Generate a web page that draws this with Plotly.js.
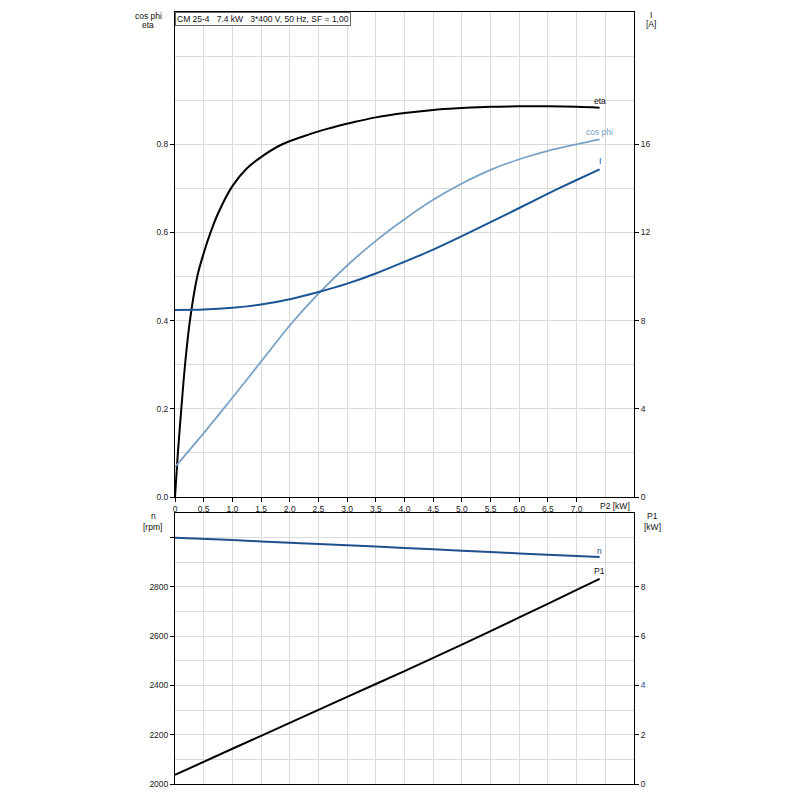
<!DOCTYPE html>
<html>
<head>
<meta charset="utf-8">
<script src="https://cdn.plot.ly/plotly-3.0.1.min.js"></script>
<style>html,body{margin:0;padding:0;background:#fff}#chart{width:800px;height:800px}</style>
</head>
<body>
<div id="chart"></div>
<script>
// ---- data ----
const p2Eta = [0, 0.05, 0.11, 0.175, 0.26, 0.388, 0.5, 0.62, 0.75, 1.0, 1.25, 1.5, 1.87, 2.35, 2.65, 3.11, 3.5, 4.0, 4.5, 5.0, 5.5, 6.0, 6.5, 7.0, 7.4];
const eta   = [0, 0.1, 0.2, 0.3, 0.4, 0.5, 0.553, 0.6, 0.643, 0.705, 0.745, 0.771, 0.8, 0.823, 0.835, 0.85, 0.861, 0.871, 0.878, 0.882, 0.885, 0.886, 0.886, 0.885, 0.883];

const p2 = [0, 0.5, 1.0, 1.5, 2.0, 2.5, 3.0, 3.5, 4.0, 4.5, 5.0, 5.5, 6.0, 6.5, 7.0, 7.4];
const cosPhi   = [0.068, 0.145, 0.225, 0.307, 0.389, 0.461, 0.525, 0.581, 0.630, 0.674, 0.711, 0.742, 0.766, 0.785, 0.800, 0.811];
const currentA = [8.48, 8.50, 8.58, 8.73, 8.97, 9.30, 9.68, 10.14, 10.67, 11.22, 11.83, 12.47, 13.11, 13.76, 14.38, 14.86];

const p2Bottom = [0, 1, 2, 3, 4, 5, 6, 7, 7.4];
const speedRpm = [3000, 2990, 2979, 2969, 2958, 2947, 2936, 2925, 2921];
const p1kW     = [0.37, 1.43, 2.48, 3.54, 4.58, 5.66, 6.76, 7.88, 8.33];

const xTickVals = [0, 0.5, 1.0, 1.5, 2.0, 2.5, 3.0, 3.5, 4.0, 4.5, 5.0, 5.5, 6.0, 6.5, 7.0];
const xTickText = ['0', '0,5', '1,0', '1,5', '2,0', '2,5', '3,0', '3,5', '4,0', '4,5', '5,0', '5,5', '6,0', '6,5', '7,0'];
const leftTopTickVals = [0, 0.2, 0.4, 0.6, 0.8];
const leftTopTickText = ['0.0', '0.2', '0.4', '0.6', '0.8'];
const rightTopTickVals = [0, 4, 8, 12, 16];
const nTickVals = [2000, 2200, 2400, 2600, 2800, 3000];
const nTickText = ['2000', '2200', '2400', '2600', '2800', ''];
const p1TickVals = [0, 2, 4, 6, 8];
const p1TickText = ['0', '2', '<span style="color:#1f4e89">4</span>', '6', '8'];

const titleText = 'CM 25-4\u00a0\u00a0 7.4 kW\u00a0\u00a0 3*400 V, 50 Hz, SF = 1,00';

// ---- colours / styles ----
const cEta = '#000000', cCos = '#7aa2c6', cI = '#1c5596', cN = '#1f4f8c', cP1 = '#000000';
const grid = '#dadada';
const FONT = 'Liberation Sans, Arial, sans-serif';
const FS = 8.5;

// geometry helpers (margins in px -> paper coords)
const L = 175, R = 166, T = 12, B = 16, W = 800, H = 800;
const PW = W - L - R, PH = H - T - B;
const fx = px => (px - L) / PW;
const fy = py => (H - B - py) / PH;

const traces = [
  {x: p2Eta, y: eta, xaxis: 'x', yaxis: 'y', mode: 'lines', line: {color: cEta, width: 2, shape: 'spline', smoothing: 1.0}, hoverinfo: 'skip'},
  {x: p2, y: cosPhi, xaxis: 'x', yaxis: 'y', mode: 'lines', line: {color: cCos, width: 1.8, shape: 'spline', smoothing: 0.8}, hoverinfo: 'skip'},
  {x: p2, y: currentA, xaxis: 'x', yaxis: 'y2', mode: 'lines', line: {color: cI, width: 2, shape: 'spline', smoothing: 0.8}, hoverinfo: 'skip'},
  {x: p2Bottom, y: speedRpm, xaxis: 'x2', yaxis: 'y3', mode: 'lines', line: {color: cN, width: 2, shape: 'spline', smoothing: 0.6}, hoverinfo: 'skip'},
  {x: p2Bottom, y: p1kW, xaxis: 'x2', yaxis: 'y4', mode: 'lines', line: {color: cP1, width: 2, shape: 'spline', smoothing: 0.6}, hoverinfo: 'skip'}
];

const axisCommon = {
  showline: true, linecolor: '#000', linewidth: 1,
  ticks: 'outside', ticklen: 4, tickcolor: '#000', tickwidth: 1,
  zeroline: false, tickfont: {size: FS, color: '#222', family: FONT},
  fixedrange: true
};

const topDomain = [fy(497), 1];
const botDomain = [0, fy(513)];

const last = a => a[a.length - 1];
const lbl = (text, px, py, color) => ({text: text, xref: 'paper', yref: 'paper', x: fx(px), y: fy(py),
  xanchor: 'center', yanchor: 'middle', showarrow: false, font: {size: FS, color: color || '#111', family: FONT}});

const annotations = [
  {text: titleText, xref: 'paper', yref: 'paper', x: 0, y: 1, xanchor: 'left', yanchor: 'top',
   showarrow: false, bgcolor: '#fff', bordercolor: '#666', borderwidth: 1, borderpad: 1,
   font: {size: FS, color: '#111', family: FONT}},
  lbl('cos phi', 148, 16),
  lbl('eta', 148, 25),
  lbl('I', 651, 15),
  lbl('[A]', 651, 24),
  lbl('P2 [kW]', 615, 506),
  lbl('n', 153, 516),
  lbl('[rpm]', 152, 527),
  lbl('P1', 652, 516),
  lbl('[kW]', 652, 527),
  // curve labels at the curve ends
  {text: 'eta', xref: 'x', yref: 'y', x: last(p2Eta), y: last(eta), yshift: 7, xanchor: 'center', yanchor: 'middle', showarrow: false, font: {size: FS, color: '#111'}},
  {text: 'cos phi', xref: 'x', yref: 'y', x: last(p2), y: last(cosPhi), yshift: 7, xanchor: 'center', yanchor: 'middle', showarrow: false, font: {size: FS, color: cCos}},
  {text: 'I', xref: 'x', yref: 'y2', x: last(p2), y: last(currentA), yshift: 8, xanchor: 'center', yanchor: 'middle', showarrow: false, font: {size: FS, color: cI}},
  {text: 'n', xref: 'x2', yref: 'y3', x: last(p2Bottom), y: last(speedRpm), yshift: 6, xanchor: 'center', yanchor: 'middle', showarrow: false, font: {size: FS, color: cN}},
  {text: 'P1', xref: 'x2', yref: 'y4', x: last(p2Bottom), y: last(p1kW), yshift: 8, xanchor: 'center', yanchor: 'middle', showarrow: false, font: {size: FS, color: '#111'}}
];

const layout = {
  width: W, height: H,
  margin: {l: L, r: R, t: T, b: B, pad: 0},
  paper_bgcolor: '#fff', plot_bgcolor: '#fff',
  showlegend: false,
  font: {family: FONT, size: FS, color: '#222'},
  xaxis: Object.assign({}, axisCommon, {
    domain: [0, 1], anchor: 'y', range: [0, 8],
    tickmode: 'array', tickvals: xTickVals, ticktext: xTickText,
    showgrid: true, gridcolor: grid, gridwidth: 1, mirror: true,
    minor: {tickmode: 'linear', tick0: 0, dtick: 0.5, showgrid: true, gridcolor: grid, ticks: ''}
  }),
  yaxis: Object.assign({}, axisCommon, {
    domain: topDomain, anchor: 'x', range: [0, 1.1],
    tickmode: 'array', tickvals: leftTopTickVals, ticktext: leftTopTickText,
    showgrid: true, gridcolor: grid, gridwidth: 1,
    minor: {tickmode: 'linear', tick0: 0, dtick: 0.1, showgrid: true, gridcolor: grid, ticks: ''}
  }),
  yaxis2: Object.assign({}, axisCommon, {
    overlaying: 'y', side: 'right', anchor: 'x', range: [0, 22],
    tickmode: 'array', tickvals: rightTopTickVals, ticktext: rightTopTickVals.map(String),
    showgrid: false
  }),
  xaxis2: Object.assign({}, axisCommon, {
    domain: [0, 1], anchor: 'y3', range: [0, 8],
    tickmode: 'linear', tick0: 0, dtick: 0.5, showticklabels: false, ticks: '',
    showgrid: true, gridcolor: grid, gridwidth: 1, mirror: true
  }),
  yaxis3: Object.assign({}, axisCommon, {
    domain: botDomain, anchor: 'x2', range: [2000, 3100],
    tickmode: 'array', tickvals: nTickVals, ticktext: nTickText,
    showgrid: true, gridcolor: grid, gridwidth: 1,
    minor: {tickmode: 'linear', tick0: 2000, dtick: 100, showgrid: true, gridcolor: grid, ticks: ''}
  }),
  yaxis4: Object.assign({}, axisCommon, {
    overlaying: 'y3', side: 'right', anchor: 'x2', range: [0, 11],
    tickmode: 'array', tickvals: p1TickVals, ticktext: p1TickText,
    showgrid: false
  }),
  annotations: annotations
};

Plotly.newPlot('chart', traces, layout, {staticPlot: true, displayModeBar: false});
</script>
</body>
</html>
